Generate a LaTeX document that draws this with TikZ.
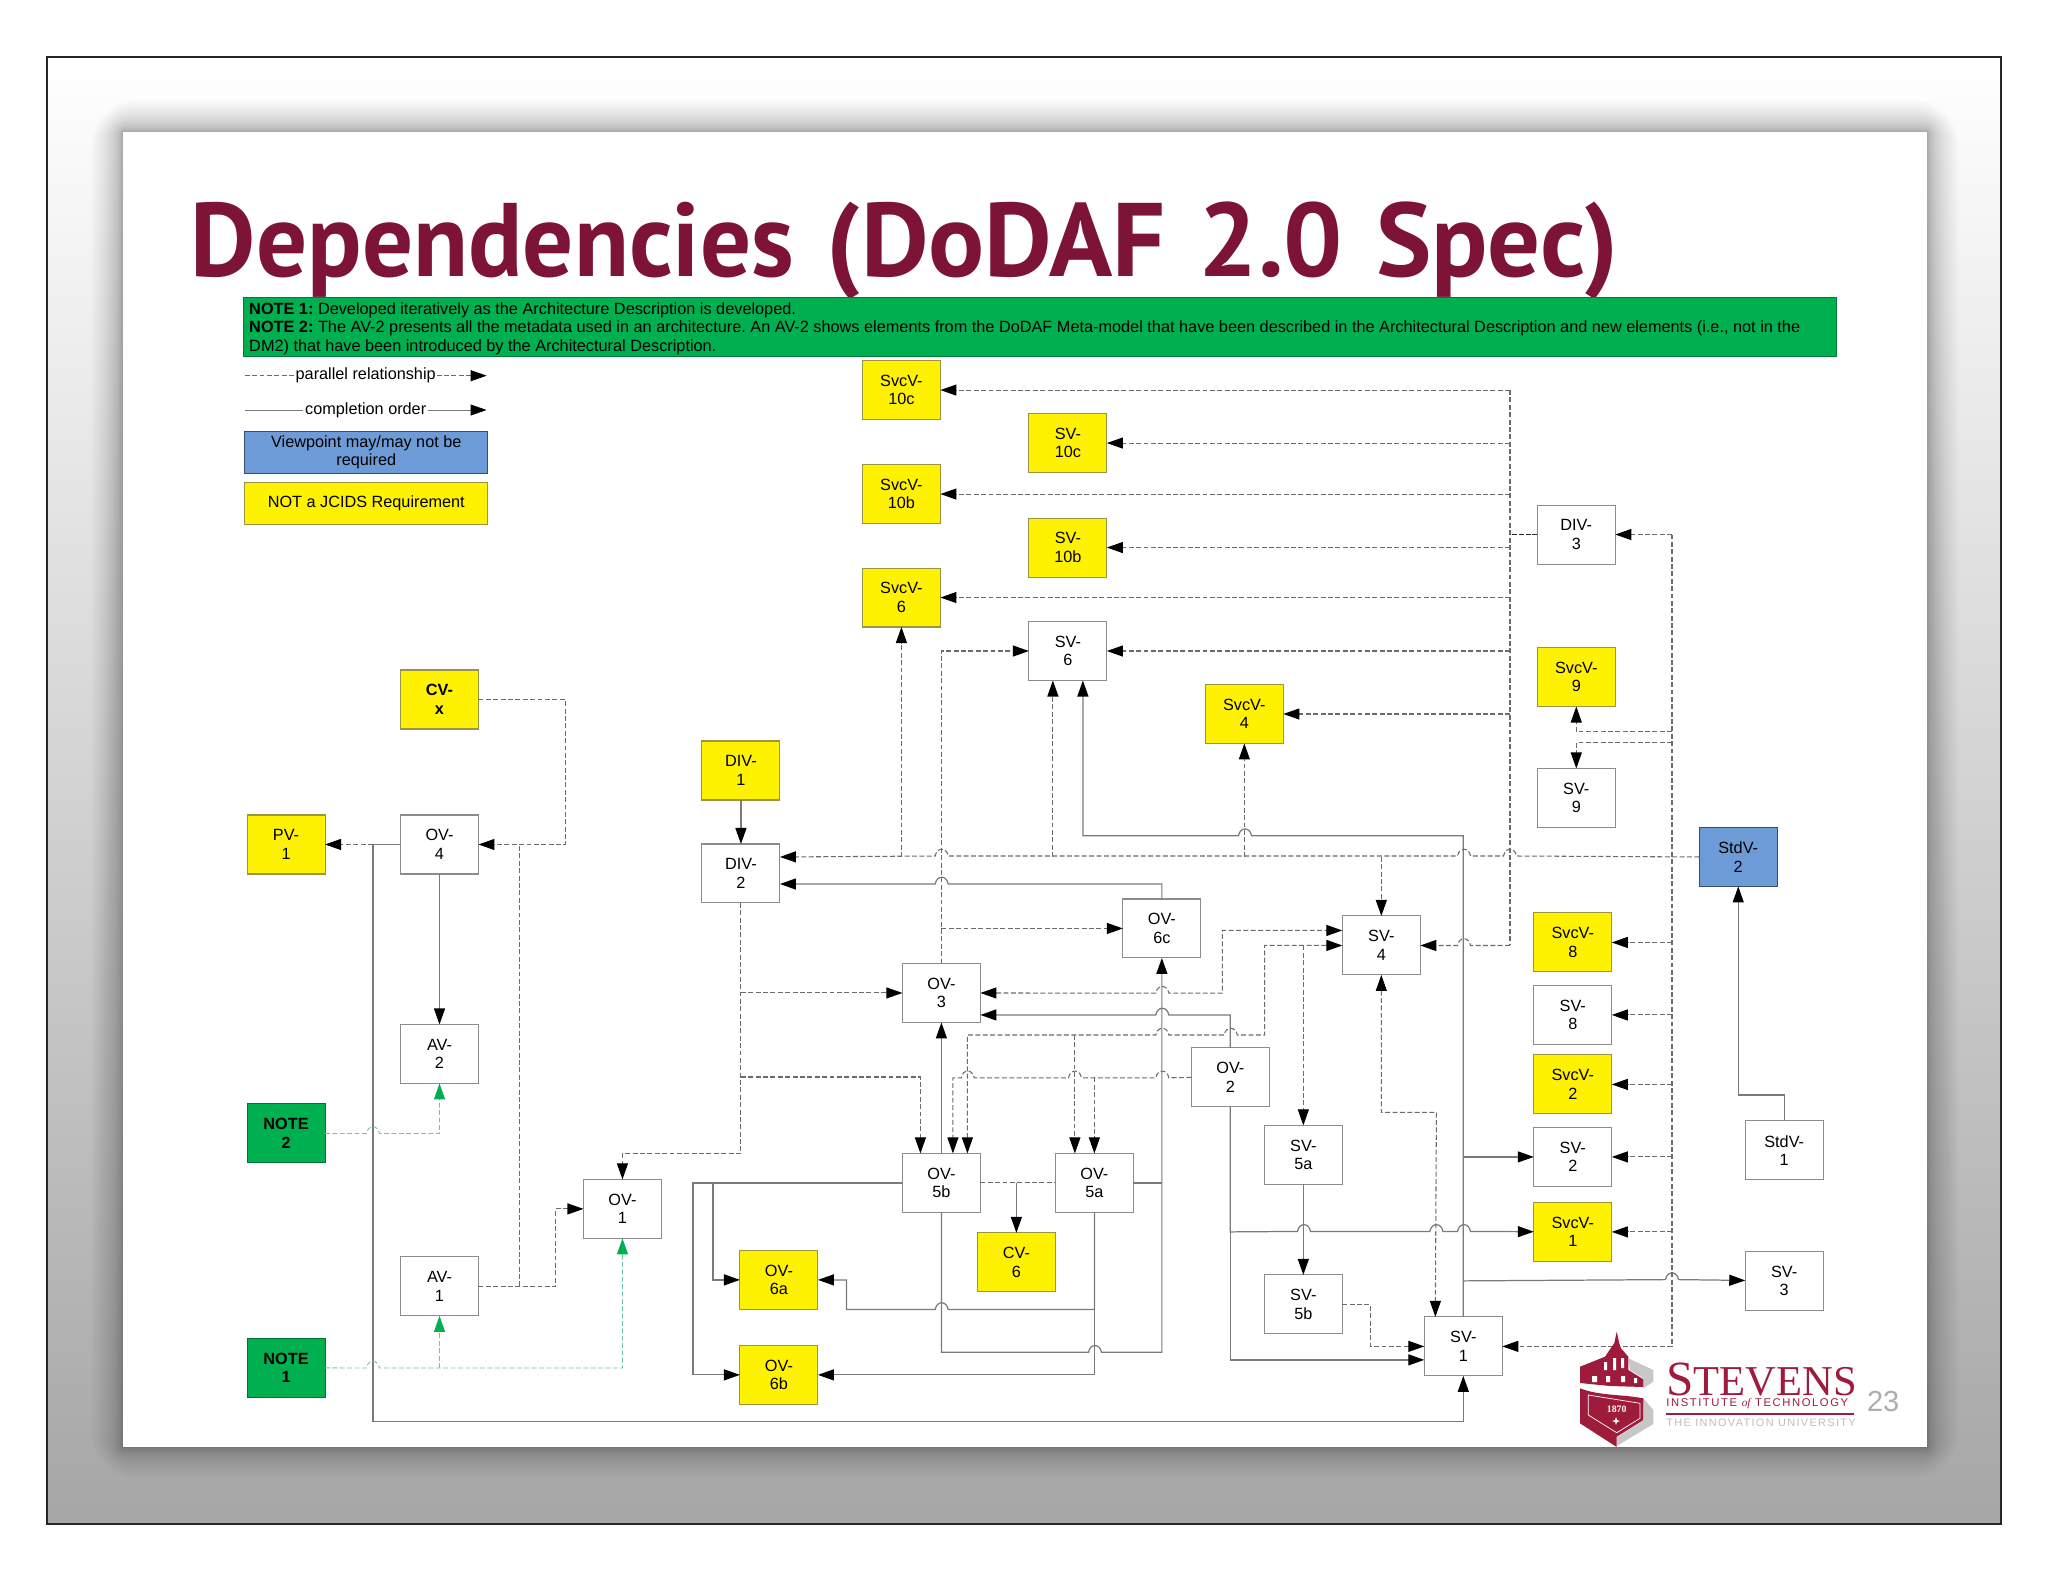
\documentclass[tikz,border=0pt]{standalone}
\usepackage{fontspec}
\usepackage{amsmath}
\setmainfont{Liberation Sans}
\newfontfamily\titlefont{PT Sans}
\newfontfamily\logofont{Liberation Serif}
\usetikzlibrary{positioning,arrows.meta}
\frenchspacing

\definecolor{maroon}{HTML}{7D1437}
\definecolor{logored}{HTML}{9E1B3C}
\definecolor{notegreen}{HTML}{00B050}
\definecolor{notedash}{HTML}{66C8A8}
\definecolor{optblue}{HTML}{6C9BD8}
\definecolor{framegray}{HTML}{A6A6A6}

\tikzset{
  main node/.style={rectangle,draw=black!45,line width=.6pt,fill=white,minimum width=1.56cm,minimum height=1.18cm,
    inner sep=0pt,outer sep=0pt,align=center,text=black,font=\fontsize{9.25}{10.6}\selectfont},
  extra node/.style={main node,fill=yellow,draw=black!45!yellow},
  note node/.style={main node,fill=notegreen,draw=black!35!notegreen,font=\fontsize{9.25}{10.6}\selectfont\bfseries},
  opt node/.style={main node,fill=optblue,draw=black!50!optblue},
  par/.style={->,color=black!58,line width=.6pt,dash pattern=on 2.8pt off 1.4pt},
  order/.style={->,color=black!52,line width=.7pt},
  notepath/.style={color=notedash,line width=.5pt,dash pattern=on 2.8pt off 1.4pt,
    -{Triangle[length=.32cm,width=.22cm,color=notegreen,fill=notegreen]}},
  legend text/.style={fill=white,inner sep=1pt,text=black,font=\fontsize{9.25}{10.6}\selectfont},
  >={Triangle[length=.32cm,width=.22cm,color=black,fill=black]},
}

% hop over a vertical line, on a horizontal run
\newcommand{\hopright}[2]{-- ({#1-6.5},#2) .. controls ({#1-5},{#2-9}) and ({#1+5},{#2-9}) .. ({#1+6.5},#2)}
\newcommand{\hopleft}[2]{-- ({#1+6.5},#2) .. controls ({#1+5},{#2-9}) and ({#1-5},{#2-9}) .. ({#1-6.5},#2)}

\begin{document}
\begin{tikzpicture}[x=.02cm,y=-.02cm]
        \useasboundingbox (0,0) rectangle (2048,1582);
        % Slide
        \shade[top color=white,bottom color=framegray] (47,57) rectangle (2001,1524);
        \foreach \i in {1,...,30} {
          \pgfmathsetmacro{\d}{\i*\i/28}
          \fill[black,opacity=.011,rounded corners={\d*.03cm}] ({123-\d},{132-\d}) rectangle ({1927+\d},{1447+\d});
        }
        \fill[white] (123,132) rectangle (1927,1447);
        \draw[black!85,line width=.9pt] (47,57) rectangle (2001,1524);
        \node[anchor=base west,inner sep=0pt,text=maroon,font=\titlefont\fontsize{59.5}{60}\selectfont\bfseries] (title) at (190.5,276) {\scalebox{.966}[1]{Dependencies} \hspace{3.7pt}(DoDAF \hspace{3.7pt}2.0 \hspace{3.7pt}Spec)};
        \node[anchor=north west,fill=notegreen,draw=black!30!notegreen,line width=.5pt,text width=31.63cm,minimum height=1.18cm,inner sep=0pt,inner xsep=.12cm,align=flush left,font=\fontsize{9.27}{10.5}\selectfont] (bar) at (242.8,296.7) {\mbox{\rule{0pt}{9pt}\textbf{NOTE 1:} Developed iteratively as the Architecture Description is developed.}\\
        \mbox{\textbf{NOTE 2:} The AV-2 presents all the metadata used in an architecture. An AV-2 shows elements from the DoDAF Meta-model that have been described in the Architectural Description and new elements (i.e., not in the}\\
        \mbox{DM2) that have been introduced by the Architectural Description.}};
        % Legend
        \node[opt node,minimum width=4.86cm,minimum height=.83cm,anchor=north west] (legblue) at (244.8,431.7) {Viewpoint may/may not be\\required};
        \node[extra node,minimum width=4.86cm,minimum height=.83cm] [below=.19cm of legblue] (legyellow) {NOT a JCIDS Requirement};
        \coordinate (parstart) at (244.8,375.7);
        \coordinate (parend) at (486.6,375.7);
        \coordinate (ordstart) at (244.8,410);
        \coordinate (ordend) at (486.6,410);
        \draw[par,line width=.5pt] (parstart) -- node[legend text] (partext) {parallel relationship} (parend);
        \draw[order,line width=.5pt] (ordstart) -- node[legend text] (ordtext) {completion order} (ordend);
        % Nodes
        \node[extra node] (cvx) at (439.5,699.5) {\textbf{CV-}\\\textbf{x}};
        \node[main node] [below=1.72cm of cvx] (ov4) {OV-\\4};
        \node[main node] [below=3.01cm of ov4] (av2) {AV-\\2};
        \node[main node] [below=3.47cm of av2] (av1) {AV-\\1};
        \node[extra node] [left=1.51cm of ov4] (pv1) {PV-\\1};
        \node[note node] [below=4.6cm of pv1] (note2) {NOTE\\2};
        \node[note node] [below=3.51cm of note2] (note1) {NOTE\\1};
        \node[main node] [above right=.37cm and 2.1cm of av1] (ov1) {OV-\\1};
        \node[main node] [above right=5.53cm and .81cm of ov1] (div2) {DIV-\\2};
        \node[extra node] [above=.88cm of div2] (div1) {DIV-\\1};
        \node[extra node] [below right=.24cm and 1.57cm of ov1] (ov6a) {OV-\\6a};
        \node[extra node] [below=.72cm of ov6a] (ov6b) {OV-\\6b};
        \node[main node] [above right=.76cm and 1.69cm of ov6a] (ov5b) {OV-\\5b};
        \node[main node] [above=2.62cm of ov5b] (ov3) {OV-\\3};
        \node[main node] [right=1.5cm of ov5b] (ov5a) {OV-\\5a};
        \node[extra node] [below left=.41cm and 0cm of ov5a] (cv6) {CV-\\6};
        \node[main node] [above right=.11cm and 2.85cm of ov3] (ov6c) {OV-\\6c};
        \node[main node] [below right=.51cm and 4.22cm of ov3] (ov2) {OV-\\2};
        \node[main node] [below right=.37cm and -.1cm of ov2] (sv5a) {SV-\\5a};
        \node[main node] [below=1.81cm of sv5a] (sv5b) {SV-\\5b};
        \node[main node] [above right=3.01cm and 0cm of sv5a] (sv4) {SV-\\4};
        \node[main node] [below right=-.34cm and 1.64cm of sv5b] (sv1) {SV-\\1};
        \node[extra node] [above right=2.28cm and 1.65cm of div1] (svcv6) {SvcV-\\6};
        \node[extra node] [above=.89cm of svcv6] (svcv10b) {SvcV-\\10b};
        \node[extra node] [above=.9cm of svcv10b] (svcv10c) {SvcV-\\10c};
        \node[main node] [below right=-.11cm and 1.77cm of svcv6] (sv6) {SV-\\6};
        \node[extra node] [above=.89cm of sv6] (sv10b) {SV-\\10b};
        \node[extra node] [above=.91cm of sv10b] (sv10c) {SV-\\10c};
        \node[extra node] [below right=.08cm and 1.97cm of sv6] (svcv4) {SvcV-\\4};
        \node[main node] [below right=.65cm and 8.61cm of sv10c] (div3) {DIV-\\3};
        \node[extra node] [below=1.67cm of div3] (svcv9) {SvcV-\\9};
        \node[main node] [below=1.24cm of svcv9] (sv9) {SV-\\9};
        \node[extra node] [below=1.71cm of sv9,xshift=-.07cm] (svcv8) {SvcV-\\8};
        \node[main node] [below=.27cm of svcv8] (sv8) {SV-\\8};
        \node[extra node] [below=.21cm of sv8] (svcv2) {SvcV-\\2};
        \node[main node] [below=.27cm of svcv2] (sv2) {SV-\\2};
        \node[extra node] [below=.32cm of sv2] (svcv1) {SvcV-\\1};
        \node[opt node] [below right=0cm and 1.68cm of sv9] (stdv2) {StdV-\\2};
        \node[main node] [below=4.69cm of stdv2,xshift=.92cm] (stdv1) {StdV-\\1};
        \node[main node] [below=1.43cm of stdv1] (sv3) {SV-\\3};
        % Paths, completion order
        \path[order]
        (div1) edge (div2)
        (ov4) edge (av2)
        (ov5b) edge (ov3)
        (sv5a) edge (sv5b)
        (cv6 |- ov5b) edge (cv6)
        (sv1.north |- sv2) edge (sv2);
        \coordinate (bus) at (372.9,1421.4);
        \coordinate (ovleft) at (693,0);
        \coordinate (ovfar) at (713,0);
        \draw[order] (stdv1.north) -- ++(0,-26) -| (stdv2.south);
        \draw[order] (ov6c.north) -- (ov6c.north |- 0,884) \hopleft{941.7}{884} -- (div2.east |- 0,884);
        \draw[order] (sv1.north) -- (sv1.north |- 0,835.7) \hopleft{1245}{835.7} -| ([xshift=.3cm]sv6.south);
        \draw[order] (sv1.north |- sv3) \hopright{1672}{1279.6} -- (sv3);
        \draw[order] (ov2.south) -- (ov2.south |- svcv1) \hopright{1304}{1231.4} \hopright{1436.4}{1231.4} \hopright{1464}{1231.4} -- (svcv1);
        \draw[order] (ov2.south) |- ([yshift=-.27cm]sv1.west);
        \draw[order] (ov2.north) -- (ov2.north |- 0,1015) \hopleft{1162.3}{1015} -- ([yshift=-.44cm]ov3.east);
        \draw[order] (ov4.west) -| (bus) -| (sv1.south);
        \draw[order] (ov5b.west) -- (ov5b -| ovleft) |- (ov6b.west);
        \draw[order] (ov5b -| ovfar) |- (ov6a.west);
        \draw[order] (ov5a.south) -- (ov5a.south |- ov6a.south) \hopleft{941.7}{1309.5} -- (846.5,1309.5) |- (ov6a.east);
        \draw[order] (ov5a.south) |- (ov6b.east);
        \draw[order] (ov5b.south) -- (ov5b.south |- 0,1352.3) \hopright{1095}{1352.3} -| (ov6c.south);
        \draw[order,-] (ov5a.east) -- (ov6c.south |- ov5a);
        % Paths, parallel relationship
        \coordinate (trunk) at (1510,0);
        \coordinate (trunkb) at (1672,0);
        \draw[par,-] (trunk |- svcv10c) -- (trunk |- sv4);
        \draw[par,-] (trunkb |- div3) -- (trunkb |- sv1);
        \draw[par,-,dash pattern=on 2.8pt off 1pt,color=black!85] (div3.west) -- (trunk |- div3);
        \draw[par,-] (ov5b.east) -- (ov5a.west);
        \path[par]
        (trunk |- svcv10c) edge (svcv10c)
        (trunk |- sv10c) edge (sv10c)
        (trunk |- svcv10b) edge (svcv10b)
        (trunk |- sv10b) edge (sv10b)
        (trunk |- svcv6) edge (svcv6)
        (trunk |- sv6) edge (sv6)
        (trunk |- svcv4) edge (svcv4)
        (trunkb |- div3) edge (div3)
        (trunkb |- svcv8) edge (svcv8)
        (trunkb |- sv8) edge (sv8)
        (trunkb |- svcv2) edge (svcv2)
        (trunkb |- sv2) edge (sv2)
        (trunkb |- svcv1) edge (svcv1)
        (trunkb |- sv1) edge (sv1)
        (svcv6 |- stdv2) edge (svcv6)
        (svcv4 |- stdv2) edge (svcv4)
        (sv4 |- stdv2) edge (sv4)
        (ov3 |- ov6c) edge (ov6c)
        (ov5a |- ov2) edge (ov5a)
        (sv5a |- sv4) edge (sv5a)
        (div2 |- ov3) edge (ov3);
        \draw[par] (trunk |- sv4) \hopleft{1464}{945.5} -- (sv4);
        \draw[par] (trunkb |- 0,731.8) -| (svcv9.south);
        \draw[par] (trunkb |- 0,742.9) -| (sv9.north);
        \draw[par] (stdv2.west) \hopleft{1510}{856} \hopleft{1464}{856} \hopleft{941.7}{856} -- (div2.east |- stdv2);
        \draw[par] ([xshift=-.3cm]sv6.south |- stdv2) -- ([xshift=-.3cm]sv6.south);
        \draw[par] (ov3.north) |- (sv6.west);
        \draw[par,<->] (ov3.east) \hopright{1162.3}{993.2} -- (1222.3,993.2) |- ([yshift=.3cm]sv4.west);
        \draw[par,<->] ([xshift=.52cm]ov5b.north) -- ([xshift=.52cm]ov5b.north |- 0,1035) \hopright{1162.3}{1035} \hopright{1230.7}{1035} -- (1264.7,1035) |- (sv4.west);
        \draw[par] ([xshift=-.39cm]ov5a.north |- 0,1035) -- ([xshift=-.39cm]ov5a.north);
        \draw[par] (ov2.west) \hopleft{1162.3}{1077.8} \hopleft{1075}{1077.8} \hopleft{967.7}{1077.8} -| ([xshift=.23cm]ov5b.north);
        \draw[par] (div2.south) -- (div2.south |- 0,1153.8) -| (ov1.north);
        \draw[par] (div2.south |- 0,1077) -| ([xshift=-.42cm]ov5b.north);
        \draw[par] (cvx.east) -| (565.3,770) |- (ov4.east);
        \draw[par,-] (av1 -| 519.3,0) -- (519.3,844.5);
        \draw[par] (av1.east) -- (av1 -| 555.9,0) |- (ov1.west);
        \draw[par] (bus |- ov4) -- (pv1);
        \draw[par] (sv5b.east) -- (sv5b -| 1370.4,0) |- (sv1.west);
        \draw[par,<->] (sv4.south) |- (1436.4,1112.3) -- ([xshift=-.56cm]sv1.north);
        % Paths, notes
        \draw[notepath] (note2.east) \hopright{372.9}{1133.5} -| (av2.south);
        \draw[notepath] (note1.east) \hopright{372.9}{1368} -| (ov1.south);
        \draw[notepath] (av1 |- note1) -- (av1.south);
        % Logo
        \fill[black!22] (1628.3,1358.3) -- (1653.3,1370) -- (1653.3,1381.7) -- (1643.3,1388.3) -- (1643.3,1378.3) -- (1630,1370) -- cycle;
        \fill[black!22] (1643.3,1398.3) -- (1653.3,1410) -- (1653.3,1424) -- (1616.7,1446) -- (1616.7,1437.3) -- (1644,1420) -- cycle;
        \fill[logored] (1616.7,1331.7) -- (1619.3,1343.3) -- (1621,1348.3) -- (1628.3,1356.7) -- (1628.3,1370) -- (1643.3,1379.3) -- (1643.3,1387) -- (1610,1386) -- (1580,1383) -- (1580,1366.7) -- (1605,1356.7) -- (1611.7,1346.7) -- (1614.3,1343) -- cycle;
        \fill[logored] (1580,1388.3) .. controls (1600,1396) and (1620,1394) .. (1643.3,1398.3) -- (1643.3,1420) -- (1616.7,1436.7) -- (1616.7,1447) -- (1580,1423.3) -- cycle;
        \draw[white,line width=.4pt] (1588.3,1395) -- (1640,1403.3) -- (1640,1418.3) -- (1616.7,1432.7) -- (1588.3,1415) -- cycle;
        \fill[white] (1592,1376) rectangle (1597,1382) (1606,1376) rectangle (1610,1382) (1621,1376) rectangle (1625,1382) (1634,1378) rectangle (1637,1383);
        \fill[white] (1604,1362) rectangle (1607,1370) (1613,1358) rectangle (1616,1370) (1621,1358) rectangle (1624,1368);
        \fill[white] (1616,1417) -- (1617,1420) -- (1620,1421) -- (1617,1422) -- (1616,1425) -- (1615,1422) -- (1612,1421) -- (1615,1420) -- cycle;
        \node[text=white,inner sep=0pt,font=\logofont\fontsize{5.6}{6}\selectfont\bfseries] (logoyear) at (1616.7,1409) {1870};
        \node[anchor=base west,inner sep=0pt,text=logored,font=\logofont\fontsize{28}{28}\selectfont] (logoname) at (1666,1395) {S\fontsize{24.2}{28}\selectfont TEVENS};
        \node[anchor=base west,inner sep=0pt,text=logored,font=\fontsize{6.4}{7}\selectfont\addfontfeature{LetterSpace=14}] (logoinst) at (1666,1406.5) {INSTITUTE {\logofont\itshape of} TECHNOLOGY};
        \draw[logored,line width=.7pt] (logoinst.south west |- 0,1414) -- (1854,1414);
        \node[anchor=base west,inner sep=0pt,text=black!25,font=\fontsize{6.2}{7}\selectfont\addfontfeature{LetterSpace=12.5}] (logomotto) at (1666,1426.7) {THE INNOVATION UNIVERSITY};
        \node[anchor=base west,inner sep=0pt,text=black!32,font=\fontsize{16.5}{17}\selectfont] (pagenum) at (1866.7,1411.7) {23};
    \end{tikzpicture}
\end{document}
